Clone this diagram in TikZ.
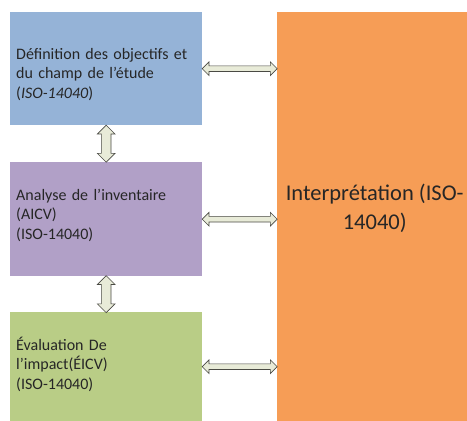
\documentclass[tikz,border=0pt]{standalone}
\usepackage{fontspec}
\setmainfont{Carlito}
\usetikzlibrary{shapes.arrows,calc}
\definecolor{defblue}{HTML}{95B3D7}
\definecolor{anapurple}{HTML}{B1A0C7}
\definecolor{evalgreen}{HTML}{B9CD86}
\definecolor{interporange}{HTML}{F69D56}
\definecolor{arrowfill}{HTML}{E8EBD8}
\definecolor{arrowline}{HTML}{4A4A44}
\tikzset{
  stagebox/.style={anchor=north west, minimum width=192pt, inner sep=0pt},
  stagetext/.style={anchor=base west, align=left, text width=185pt, inner sep=0pt,
    font=\fontsize{16}{19.5}\selectfont, text=black!85},
  harrow/.style={double arrow, draw=arrowline, fill=arrowfill, line width=0.7pt,
    minimum height=75pt, inner sep=2.5pt, double arrow head extend=4pt},
  varrow/.style={harrow, rotate=90, minimum height=37pt, inner sep=4.5pt}
}
\begin{document}
\begin{tikzpicture}[x=1pt,y=1pt]
\useasboundingbox (0,0) rectangle (467,-421);
\node[stagebox, fill=defblue, minimum height=113pt] (def) at (10,-12) {};
\node[stagebox, fill=anapurple, minimum height=114pt] (ana) at (10,-162) {};
\node[stagebox, fill=evalgreen, minimum height=109pt] (eval) at (10,-312) {};
\node[stagebox, fill=interporange, minimum width=190pt, minimum height=409pt] (interp) at (277,-12) {};
% texts
\node[stagetext] (deft) at ($(def.north west)+(6,-47)$)
  {Définition des objectifs et\\du champ de l’étude\\(\textit{ISO-14040})};
\node[stagetext] (anat) at ($(ana.north west)+(6,-38)$)
  {Analyse de l’inventaire\\(AICV)\\(ISO-14040)};
\node[stagetext] (evalt) at ($(eval.north west)+(6,-38)$)
  {Évaluation De\\l’impact(ÉICV)\\(ISO-14040)};
\node[anchor=base, align=center, inner sep=0pt, font=\fontsize{22.5}{29}\selectfont,
  text=black!85] (interpt) at ($(interp.north)+(2.5,-217)$)
  {Interprétation (ISO-\\14040)};
% connectors
\node[harrow] (a1) at ($(def.east)!0.5!(interp.west |- def.east)$) {};
\node[harrow] (a2) at ($(ana.east)!0.5!(interp.west |- ana.east)$) {};
\node[harrow] (a3) at ($(eval.east)!0.5!(interp.west |- eval.east)$) {};
\node[varrow] (v1) at ($(def.south)!0.5!(ana.north)$) {};
\node[varrow] (v2) at ($(ana.south)!0.5!(eval.north)$) {};
\end{tikzpicture}
\end{document}
